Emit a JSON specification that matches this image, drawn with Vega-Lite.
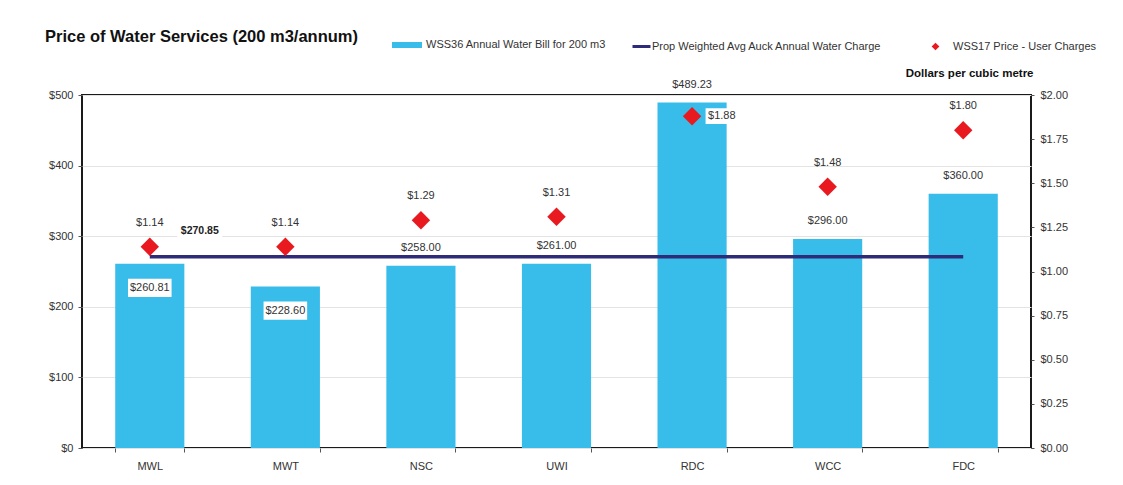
{
  "$schema": "https://vega.github.io/schema/vega-lite/v6.json",
  "width": 949,
  "height": 353,
  "autosize": "none",
  "padding": {"left": 82, "top": 95, "right": 91, "bottom": 37},
  "background": "#ffffff",
  "config": {
    "font": "Liberation Sans",
    "view": {"stroke": "#1a1a1a", "strokeWidth": 2},
    "axis": {"labelFont": "Liberation Sans", "labelColor": "#333333", "labelFontSize": 11, "tickColor": "#555555", "domain": false}
  },
  "title": {
    "text": "Price of Water Services (200 m3/annum)",
    "anchor": "start",
    "frame": "group",
    "fontSize": 16.5,
    "fontWeight": "bold",
    "color": "#111111",
    "font": "Liberation Sans",
    "dx": -37,
    "dy": 26,
    "offset": 10
  },
  "data": {
    "values": [
      {"category": "MWL", "bill": 260.81, "price": 1.14, "avg": 270.85},
      {"category": "MWT", "bill": 228.60, "price": 1.14, "avg": 270.85},
      {"category": "NSC", "bill": 258.00, "price": 1.29, "avg": 270.85},
      {"category": "UWI", "bill": 261.00, "price": 1.31, "avg": 270.85},
      {"category": "RDC", "bill": 489.23, "price": 1.88, "avg": 270.85},
      {"category": "WCC", "bill": 296.00, "price": 1.48, "avg": 270.85},
      {"category": "FDC", "bill": 360.00, "price": 1.80, "avg": 270.85}
    ]
  },
  "encoding": {
    "x": {
      "field": "category",
      "type": "nominal",
      "sort": null,
      "scale": {"paddingInner": 0.49, "paddingOuter": 0.245},
      "axis": {"title": null, "labelAngle": 0, "labelPadding": 8, "tickBand": "extent", "tickSize": 4, "labelFontSize": 11}
    }
  },
  "layer": [
    {
      "resolve": {"scale": {"color": "independent"}},
      "encoding": {
        "y": {
          "type": "quantitative",
          "scale": {"domain": [0, 500], "nice": false},
          "axis": {"title": null, "values": [0, 100, 200, 300, 400, 500], "format": "$.0f", "grid": true, "gridColor": "#e3e3e3", "tickSize": 4, "labelPadding": 5}
        }
      },
      "layer": [
        {
          "mark": {"type": "bar", "color": "#38bdea"},
          "encoding": {
            "y": {"field": "bill", "type": "quantitative"},
            "color": {
              "datum": "WSS36 Annual Water Bill for 200 m3",
              "type": "nominal",
              "scale": {"range": ["#38bdea"]},
              "legend": {"title": null, "orient": "none", "legendX": 309, "legendY": -66, "symbolType": "M-1,-0.2H1V0.2H-1Z", "symbolSize": 900, "labelOffset": 3, "labelFontSize": 11, "labelLimit": 0, "labelColor": "#333333", "labelFont": "Liberation Sans", "padding": 0}
            }
          }
        },
        {
          "transform": [{"filter": "datum.category != 'MWL' && datum.category != 'MWT'"}],
          "mark": {"type": "text", "dy": -18, "fontSize": 11, "color": "#333333"},
          "encoding": {
            "y": {"field": "bill", "type": "quantitative"},
            "text": {"field": "bill", "type": "quantitative", "format": "$.2f"}
          }
        },
        {
          "transform": [{"filter": "datum.category == 'MWL' || datum.category == 'MWT'"}],
          "mark": {"type": "point", "shape": "M-1,-0.42H1V0.42H-1Z", "size": 1900, "filled": true, "color": "#ffffff", "opacity": 1, "yOffset": 24},
          "encoding": {"y": {"field": "bill", "type": "quantitative"}}
        },
        {
          "transform": [{"filter": "datum.category == 'MWL' || datum.category == 'MWT'"}],
          "mark": {"type": "text", "dy": 24, "fontSize": 11, "color": "#333333"},
          "encoding": {
            "y": {"field": "bill", "type": "quantitative"},
            "text": {"field": "bill", "type": "quantitative", "format": "$.2f"}
          }
        },
        {
          "mark": {"type": "line", "strokeWidth": 3.5, "color": "#2e2b78"},
          "encoding": {
            "y": {"field": "avg", "type": "quantitative"},
            "color": {
              "datum": "Prop Weighted Avg Auck Annual Water Charge",
              "type": "nominal",
              "scale": {"range": ["#2e2b78"]},
              "legend": {"title": null, "orient": "none", "legendX": 549, "legendY": -59, "symbolType": "stroke", "symbolSize": 324, "symbolStrokeWidth": 3, "labelOffset": 0, "labelFontSize": 11, "labelLimit": 0, "labelColor": "#333333", "labelFont": "Liberation Sans", "padding": 0}
            }
          }
        },
        {
          "transform": [{"filter": "datum.category == 'MWL'"}],
          "mark": {"type": "point", "shape": "M-1,-0.38H1V0.38H-1Z", "size": 2025, "filled": true, "color": "#ffffff", "opacity": 1, "xOffset": 50, "yOffset": -26},
          "encoding": {"y": {"field": "avg", "type": "quantitative"}}
        },
        {
          "transform": [{"filter": "datum.category == 'MWL'"}],
          "mark": {"type": "text", "dx": 50, "dy": -26, "fontSize": 10.5, "fontWeight": "bold", "color": "#222222"},
          "encoding": {
            "y": {"field": "avg", "type": "quantitative"},
            "text": {"field": "avg", "type": "quantitative", "format": "$.2f"}
          }
        }
      ]
    },
    {
      "encoding": {
        "y": {
          "type": "quantitative",
          "scale": {"domain": [0, 2], "nice": false},
          "axis": {"orient": "right", "values": [0, 0.25, 0.5, 0.75, 1, 1.25, 1.5, 1.75, 2], "format": "$.2f", "grid": false, "tickSize": 3, "labelPadding": 6, "title": "Dollars per cubic metre", "titleAngle": 0, "titleAlign": "right", "titleBaseline": "middle", "titleX": 2, "titleY": -22, "titleFontSize": 11.5, "titleFontWeight": "bold", "titleColor": "#111111", "titleFont": "Liberation Sans"}
        }
      },
      "layer": [
        {
          "mark": {"type": "point", "shape": "diamond", "size": 340, "filled": true, "opacity": 1},
          "encoding": {
            "y": {"field": "price", "type": "quantitative"},
            "color": {
              "datum": "WSS17 Price - User Charges",
              "type": "nominal",
              "scale": {"range": ["#e8191f"]},
              "legend": {"title": null, "orient": "none", "legendX": 848, "legendY": -54, "symbolType": "diamond", "symbolSize": 60, "labelOffset": 12, "labelFontSize": 11, "labelLimit": 0, "labelColor": "#333333", "labelFont": "Liberation Sans", "padding": 0}
            }
          }
        },
        {
          "transform": [{"filter": "datum.category != 'RDC'"}],
          "mark": {"type": "text", "dy": -24, "fontSize": 11, "color": "#333333"},
          "encoding": {
            "y": {"field": "price", "type": "quantitative"},
            "text": {"field": "price", "type": "quantitative", "format": "$.2f"}
          }
        },
        {
          "transform": [{"filter": "datum.category == 'RDC'"}],
          "mark": {"type": "point", "shape": "M-1,-0.45H1V0.45H-1Z", "size": 1225, "filled": true, "color": "#ffffff", "opacity": 1, "xOffset": 31},
          "encoding": {"y": {"field": "price", "type": "quantitative"}}
        },
        {
          "transform": [{"filter": "datum.category == 'RDC'"}],
          "mark": {"type": "text", "align": "left", "dx": 16, "fontSize": 11, "color": "#333333"},
          "encoding": {
            "y": {"field": "price", "type": "quantitative"},
            "text": {"field": "price", "type": "quantitative", "format": "$.2f"}
          }
        }
      ]
    }
  ],
  "resolve": {"scale": {"y": "independent", "color": "independent"}}
}
